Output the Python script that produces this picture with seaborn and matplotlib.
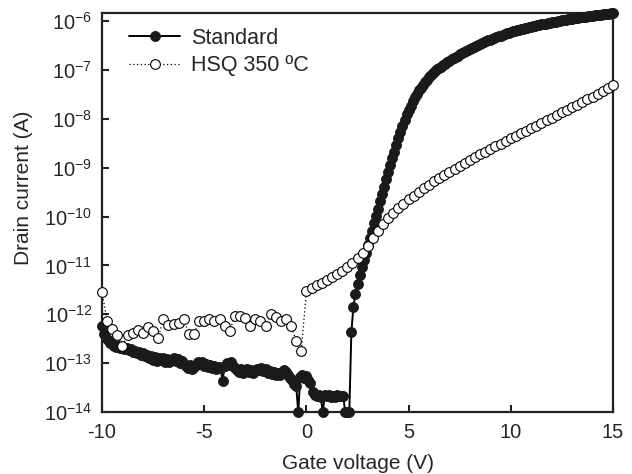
import numpy as np
import pandas as pd
import seaborn as sns
import matplotlib
matplotlib.use("Agg")
import matplotlib.pyplot as plt

# ---------------- data (log10 of drain current, A) ----------------
std_voltage = np.round(np.arange(-10.0, 15.0001, 0.1), 2)
std_log_current = [
    -12.24, -12.40, -12.48, -12.52, -12.58, -12.60, -12.64, -12.66, -12.65, -12.70,
    -12.68, -12.72, -12.70, -12.74, -12.72, -12.78, -12.76, -12.80, -12.78, -12.84,
    -12.80, -12.86, -12.83, -12.90, -12.86, -12.93, -12.88, -12.95, -12.90, -12.94,
    -12.89, -12.97, -12.92, -12.98, -12.93, -12.90, -12.96, -12.92, -13.00, -12.95,
    -13.02, -13.06, -13.10, -13.04, -13.12, -13.08, -13.04, -12.98, -13.02, -12.97,
    -13.05, -13.02, -13.08, -13.03, -13.10, -13.06, -13.12, -13.07, -13.10, -13.36,
    -13.05, -13.00, -13.04, -12.98, -13.06, -13.10, -13.14, -13.18, -13.13, -13.20,
    -13.15, -13.12, -13.18, -13.14, -13.20, -13.16, -13.11, -13.15, -13.10, -13.17,
    -13.13, -13.20, -13.16, -13.23, -13.18, -13.25, -13.20, -13.24, -13.19, -13.14,
    -13.18, -13.25, -13.30, -13.34, -13.42, -13.46, -14.00, -13.28, -13.24, -13.30,
    -13.26, -13.34, -13.40, -13.60, -13.66, -13.68, -13.65, -13.70, -14.00, -13.66,
    -13.68, -13.66, -13.70, -13.67, -13.69, -13.66, -13.68, -13.67, -13.68, -14.00,
    -14.00, -14.00, -12.36, -11.85, -11.58, -11.38, -11.20, -11.04, -10.89, -10.74,
    -10.59, -10.44, -10.29, -10.14, -9.99, -9.84, -9.69, -9.54, -9.39, -9.24,
    -9.09, -8.95, -8.81, -8.67, -8.53, -8.40, -8.27, -8.14, -8.02, -7.91,
    -7.82, -7.73, -7.64, -7.56, -7.49, -7.42, -7.36, -7.30, -7.25, -7.20,
    -7.15, -7.11, -7.07, -7.03, -6.99, -6.96, -6.93, -6.90, -6.87, -6.84,
    -6.81, -6.78, -6.76, -6.73, -6.71, -6.68, -6.66, -6.64, -6.61, -6.59,
    -6.57, -6.55, -6.53, -6.51, -6.49, -6.47, -6.45, -6.43, -6.41, -6.39,
    -6.38, -6.36, -6.34, -6.33, -6.31, -6.30, -6.28, -6.27, -6.25, -6.24,
    -6.22, -6.21, -6.20, -6.19, -6.18, -6.17, -6.16, -6.15, -6.14, -6.13,
    -6.12, -6.11, -6.10, -6.09, -6.08, -6.07, -6.06, -6.05, -6.04, -6.03,
    -6.02, -6.01, -6.01, -6.00, -5.99, -5.98, -5.98, -5.97, -5.96, -5.96,
    -5.95, -5.94, -5.94, -5.93, -5.92, -5.92, -5.91, -5.91, -5.90, -5.89,
    -5.89, -5.88, -5.88, -5.87, -5.87, -5.86, -5.86, -5.85, -5.85, -5.84,
    -5.84,
]

hsq_voltage = np.round(np.arange(-10.0, 15.0001, 0.25), 2)
hsq_log_current = [
    -11.54, -12.14, -12.30, -12.42,
    -12.65, -12.42, -12.38, -12.33,
    -12.38, -12.27, -12.35, -12.48,
    -12.10, -12.21, -12.20, -12.17,
    -12.10, -12.41, -12.41, -12.14,
    -12.14, -12.09, -12.14, -12.10,
    -12.24, -12.34, -12.03, -12.03,
    -12.07, -12.25, -12.09, -12.14,
    -12.24, -12.00, -12.05, -12.14,
    -12.10, -12.24, -12.54, -12.75,
    -11.52, -11.46, -11.41, -11.35,
    -11.30, -11.24, -11.17, -11.11,
    -11.04, -10.96, -10.85, -10.74,
    -10.60, -10.43, -10.29, -10.16,
    -10.04, -9.93, -9.83, -9.74,
    -9.65, -9.57, -9.50, -9.42,
    -9.35, -9.28, -9.21, -9.14,
    -9.08, -9.02, -8.96, -8.90,
    -8.84, -8.78, -8.73, -8.67,
    -8.62, -8.56, -8.51, -8.45,
    -8.40, -8.35, -8.29, -8.24,
    -8.19, -8.14, -8.08, -8.03,
    -7.98, -7.93, -7.87, -7.82,
    -7.76, -7.71, -7.66, -7.60,
    -7.55, -7.49, -7.44, -7.37,
    -7.30,
]

series_labels = ["Standard", "HSQ 350 ºC"]
x_ticks = [-10, -5, 0, 5, 10, 15]
y_decades = [-14, -13, -12, -11, -10, -9, -8, -7, -6]

std_df = pd.DataFrame({"V": std_voltage, "I": 10.0 ** np.array(std_log_current)})
hsq_df = pd.DataFrame({"V": hsq_voltage, "I": 10.0 ** np.array(hsq_log_current)})

# ---------------- style ----------------
sns.set_style("ticks")
plt.rcParams["font.family"] = ["Liberation Sans", "DejaVu Sans"]
plt.rcParams["axes.unicode_minus"] = False
plt.rcParams["mathtext.default"] = "regular"

fig = plt.figure(figsize=(6.32, 4.74), dpi=100)
ax = fig.add_axes([102 / 632, 1 - 412 / 474, 511 / 632, 399 / 474])

sns.lineplot(data=std_df, x="V", y="I", ax=ax, estimator=None, sort=False,
             color="black", linewidth=1.4, linestyle="-",
             marker="o", markersize=7.2, markerfacecolor="#1a1a1a",
             markeredgecolor="#1a1a1a", markeredgewidth=0.6,
             label=series_labels[0], clip_on=False, zorder=3)
sns.lineplot(data=hsq_df, x="V", y="I", ax=ax, estimator=None, sort=False,
             color="black", linewidth=0.9, linestyle=(0, (1, 2)),
             marker="o", markersize=7.0, markerfacecolor="white",
             markeredgecolor="black", markeredgewidth=0.8,
             label=series_labels[1], clip_on=False, zorder=4)

ax.set_yscale("log")
ax.set_xlim(-10, 15)
ax.set_ylim(1e-14, 10 ** -5.835)
ax.set_xticks(x_ticks)
ax.set_xticklabels([str(t) for t in x_ticks])
ax.set_yticks([10.0 ** d for d in y_decades])
ax.set_yticklabels([r"$10^{%d}$" % d for d in y_decades])
ax.yaxis.set_minor_locator(matplotlib.ticker.NullLocator())

ax.tick_params(axis="both", which="major", direction="in", length=5, width=1.5,
               labelsize=14.5, top=False, right=False, color="#222222")
ax.tick_params(axis="x", pad=8)
ax.tick_params(axis="y", pad=7)
for s in ax.spines.values():
    s.set_linewidth(1.6)
    s.set_color("#222222")

ax.set_xlabel("Gate voltage (V)", fontsize=15)
ax.set_ylabel("Drain current (A)", fontsize=15)
ax.xaxis.set_label_coords(0.5, -0.105)
ax.yaxis.set_label_coords(-0.135, 0.561)

leg = ax.legend(loc="upper left", bbox_to_anchor=(0.02, 1.006), frameon=False,
                fontsize=15.5, handlelength=2.35, handletextpad=0.5,
                labelspacing=0.3, borderpad=0.3)

fig.savefig("out.png", dpi=100)
